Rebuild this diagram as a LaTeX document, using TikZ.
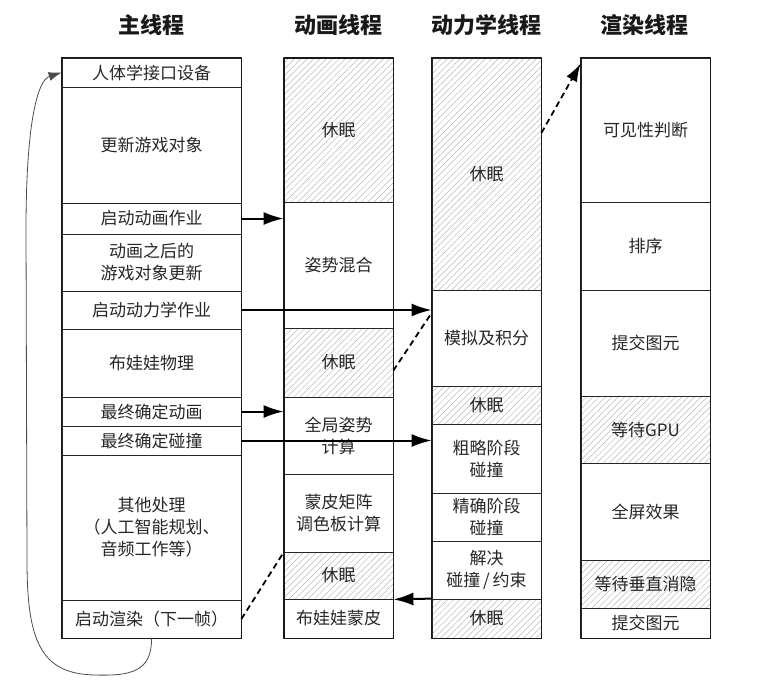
\documentclass[tikz,border=0pt]{standalone}
\usepackage{fontspec}
\setmainfont{Noto Sans CJK SC}
\usetikzlibrary{arrows.meta,patterns.meta}

\tikzset{
	cell/.style={draw=black!85, line width=0.8pt, minimum width=#1, inner sep=0pt, align=center, text=black!85, font=\fontsize{17}{22}\selectfont},
	awake/.style={},
	asleep/.style={pattern={Lines[angle=45, distance=4.5pt, line width=0.5pt]}, pattern color=gray!55},
	head/.style={font=\fontsize{22}{26}\selectfont\bfseries, text=black!90},
	frame/.style={draw=black!90, line width=1.6pt},
	arr/.style={line width=2pt, -{Latex[length=20pt, width=13pt]}},
	sync/.style={line width=1.8pt, dash pattern=on 6pt off 4pt},
	backloop/.style={line width=0.8pt, black!70, -{Latex[length=13pt, width=9pt]}}
}

\begin{document}
\begin{tikzpicture}[x=1pt, y=-1pt, line join=round]
	\useasboundingbox (0,0) rectangle (771,697);
	% Tiêu đề các luồng
	\node[head] (hm) at (151.5,25) {主线程};
	\node[head] (ha) at (338.5,25) {动画线程};
	\node[head] (hp) at (486.5,25) {动力学线程};
	\node[head] (hr) at (644.5,25) {渲染线程};
	% Luồng chính
	\foreach \t/\b/\txt/\sty [count=\i] in {
		58/87/{人体学接口设备}/awake, 87/203/{更新游戏对象}/awake,
		203/234/{启动动画作业}/awake, 234/291/{动画之后的\\游戏对象更新}/awake,
		291/329/{启动动力学作业}/awake, 329/397/{布娃娃物理}/awake,
		397/426/{最终确定动画}/awake, 426/455/{最终确定碰撞}/awake,
		455/600/{其他处理\\（人工智能规划、\\音频工作等）}/awake, 600/638/{启动渲染（下一帧）}/awake}
		\node[cell=179pt, \sty, minimum height={(\b-\t)*1pt}] (m\i) at (151.5,{(\t+\b)/2}) {\txt};
	% Luồng hoạt hình
	\foreach \t/\b/\txt/\sty [count=\i] in {
		58/202/{休眠}/asleep, 202/328/{姿势混合}/awake, 328/397/{休眠}/asleep,
		397/474/{全局姿势\\计算}/awake, 474/552/{蒙皮矩阵\\调色板计算}/awake,
		552/599/{休眠}/asleep, 599/638/{布娃娃蒙皮}/awake}
		\node[cell=109pt, \sty, minimum height={(\b-\t)*1pt}] (a\i) at (338.5,{(\t+\b)/2}) {\txt};
	% Luồng động lực học
	\foreach \t/\b/\txt/\sty [count=\i] in {
		58/290/{休眠}/asleep, 290/386/{模拟及积分}/awake, 386/424/{休眠}/asleep,
		424/493/{粗略阶段\\碰撞}/awake, 493/541/{精确阶段\\碰撞}/awake,
		541/599/{解决\\碰撞\,/\,约束}/awake, 599/638/{休眠}/asleep}
		\node[cell=109pt, \sty, minimum height={(\b-\t)*1pt}] (p\i) at (486.5,{(\t+\b)/2}) {\txt};
	% Luồng kết xuất
	\foreach \t/\b/\txt/\sty [count=\i] in {
		58/202/{可见性判断}/awake, 202/290/{排序}/awake, 290/396/{提交图元}/awake,
		396/463/{等待GPU}/asleep, 463/560/{全屏效果}/awake,
		560/608/{等待垂直消隐}/asleep, 608/638/{提交图元}/awake}
		\node[cell=129pt, \sty, minimum height={(\b-\t)*1pt}] (r\i) at (645.5,{(\t+\b)/2}) {\txt};
	% Khung ngoài
	\draw[frame] (m1.north west) rectangle (m10.south east);
	\draw[frame] (a1.north west) rectangle (a7.south east);
	\draw[frame] (p1.north west) rectangle (p7.south east);
	\draw[frame] (r1.north west) rectangle (r7.south east);
	% Khởi động công việc
	\draw[arr] (m3.east) -- (m3.east -| a2.west);
	\draw[arr] (m5.east) -- (m5.east -| p2.west);
	\draw[arr] (m7.east) -- (m7.east -| a4.west);
	\draw[arr] (m8.east) -- (m8.east -| p4.west);
	\draw[arr] (p7.north west) -- (a6.south east);
	% Đồng bộ (nét đứt)
	\draw[sync] ([yshift=-8pt]a3.east) -- ([yshift=25pt]p2.west);
	\draw[sync] (m10.east) -- (a5.south west);
	\draw[sync, -{Latex[length=18pt, width=12pt]}] ([yshift=41pt]p1.east) -- ([yshift=-6pt]r1.north west);
	% Vòng lặp khung hình
	\draw[backloop] (m10.south) .. controls (152,672) and (130,676) .. (95,675)
		.. controls (40,674) and (27,640) .. (27,560) -- (26,230)
		.. controls (26,120) and (38,80) .. (m1.west);
\end{tikzpicture}
\end{document}
